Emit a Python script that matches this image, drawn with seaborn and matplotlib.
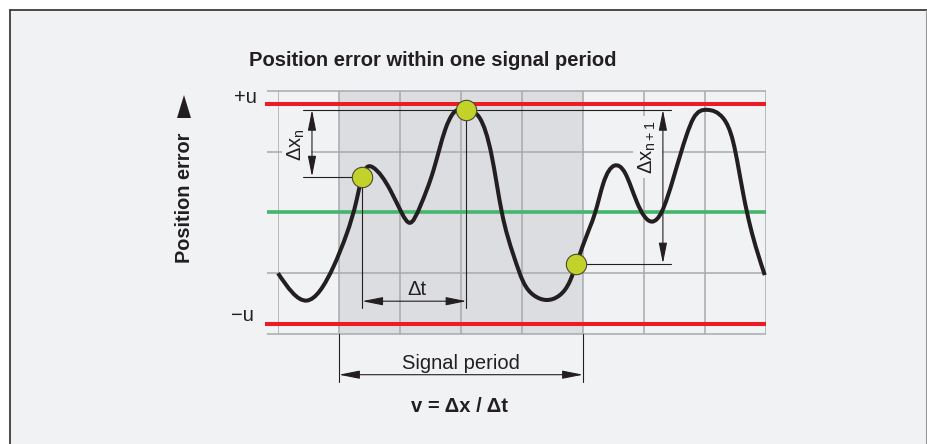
import numpy as np
import pandas as pd
import matplotlib
matplotlib.use("Agg")
import matplotlib.pyplot as plt
import seaborn as sns
from matplotlib.path import Path
from matplotlib.patches import PathPatch, Polygon, Rectangle
from matplotlib.lines import Line2D

# ---------------- data ----------------
title_text = "Position error within one signal period"
y_label = "Position error"
period_label = "Signal period"
formula_text = "v = Δx / Δt"
upper_label = "+u"
lower_label = "−u"
dxn_label = "Δx$_{n}$"
dxn1_label = "Δx$_{n+1}$"
dt_label = "Δt"

# position-error curve (x in grid columns, y in grid rows)
curve_x = [0.00, 0.47, 0.91, 1.13, 1.29, 1.38, 1.56, 1.84, 2.03, 2.16, 2.33, 2.55,
           2.74, 2.87, 3.09, 3.31, 3.50, 3.67, 3.86, 4.02, 4.19, 4.40, 4.62, 4.79,
           4.89, 5.11, 5.20, 5.33, 5.51, 5.69, 5.88, 6.13, 6.29, 6.48, 6.70, 6.81,
           7.03, 7.30, 7.46, 7.63, 7.74, 7.98]
curve_y = [-1.00, -1.45, -0.89, -0.34, 0.21, 0.59, 0.74, 0.37, -0.01, -0.17, 0.10, 0.70,
           1.36, 1.63, 1.70, 1.55, 0.95, 0.00, -0.70, -1.14, -1.36, -1.44, -1.36, -1.12,
           -0.85, -0.25, 0.00, 0.47, 0.77, 0.65, 0.18, -0.15, 0.01, 0.56, 1.28, 1.55,
           1.69, 1.55, 1.17, 0.29, -0.22, -1.03]

# sampled points (yellow markers)
marker_x = [1.38, 3.09, 4.89]
marker_y = [0.59, 1.69, -0.84]

# tolerance band and zero line
upper_limit = 1.79
lower_limit = -1.83
zero_level = 0.0

# grid and signal period
grid_cols = [0, 1, 2, 3, 4, 5, 6, 7, 8]
grid_rows = [-2, -1, 1, 2]
period_start = 1
period_end = 5

# ---------------- style ----------------
BG = "#f1f2f4"
SHADE = "#dcdde0"
GRID = "#a7a9ac"
RED = "#ec1c24"
GREEN = "#45b56b"
INK = "#231f20"
MARK = "#c3d12b"

sns.set_theme(style="white")
plt.rcParams["font.family"] = ["Liberation Sans", "DejaVu Sans"]
plt.rcParams["mathtext.fontset"] = "custom"
plt.rcParams["mathtext.rm"] = "Liberation Sans"
plt.rcParams["mathtext.it"] = "Liberation Sans"
plt.rcParams["mathtext.default"] = "regular"

W, H = 928, 444
fig = plt.figure(figsize=(W / 100, H / 100), dpi=100, facecolor="white")

# framed panel
fig.patches.append(Rectangle((10.5 / W, 0), 1 - 10.5 / W, (H - 10.5) / H,
                             transform=fig.transFigure, facecolor=BG,
                             edgecolor="none", zorder=-5))
fig.lines.append(Line2D([10.5 / W, 1], [(H - 10.5) / H] * 2, transform=fig.transFigure,
                        color="#3c3c3c", lw=1.3, zorder=-4))
fig.lines.append(Line2D([10.5 / W] * 2, [0, (H - 10.5) / H], transform=fig.transFigure,
                        color="#3c3c3c", lw=1.3, zorder=-4))
fig.lines.append(Line2D([926.5 / W] * 2, [0, (H - 10.5) / H], transform=fig.transFigure,
                        color="#9a9a9a", lw=0.8, zorder=-4))

ax = fig.add_axes([278 / W, 110 / H, 488 / W, 243 / H])
ax.set_xlim(0, 8)
ax.set_ylim(-2, 2)
ax.set_axis_off()
ax.patch.set_alpha(0)

# shaded signal period
ax.axvspan(period_start, period_end, ymin=0, ymax=1, color=SHADE, zorder=0.5, lw=0)

# grid
ax.vlines(grid_cols, -2, 2, color=GRID, lw=1.1, zorder=1)
ax.hlines(grid_rows, -0.18, 8, color=GRID, lw=1.1, zorder=1, clip_on=False)

# limits and zero line
ax.hlines([upper_limit, lower_limit], -0.21, 8, color=RED, lw=2.9, zorder=2, clip_on=False)
ax.hlines([zero_level], -0.18, 8, color=GREEN, lw=2.6, zorder=2, clip_on=False)


def smooth_path(xs, ys):
    """Natural cubic spline through the read points, drawn as Bezier segments."""
    x = np.asarray(xs, float)
    y = np.asarray(ys, float)
    n = len(x)
    h = np.diff(x)
    d = np.diff(y) / h
    A = np.zeros((n, n))
    r = np.zeros(n)
    A[0, 0] = A[-1, -1] = 1.0
    for i in range(1, n - 1):
        A[i, i - 1] = h[i - 1]
        A[i, i] = 2 * (h[i - 1] + h[i])
        A[i, i + 1] = h[i]
        r[i] = 6 * (d[i] - d[i - 1])
    M = np.linalg.solve(A, r)
    m = np.empty(n)
    m[:-1] = d - h * (2 * M[:-1] + M[1:]) / 6
    m[-1] = d[-1] + h[-1] * (M[-2] + 2 * M[-1]) / 6
    verts = [(x[0], y[0])]
    codes = [Path.MOVETO]
    for i in range(n - 1):
        verts += [(x[i] + h[i] / 3, y[i] + m[i] * h[i] / 3),
                  (x[i + 1] - h[i] / 3, y[i + 1] - m[i + 1] * h[i] / 3),
                  (x[i + 1], y[i + 1])]
        codes += [Path.CURVE4] * 3
    return Path(verts, codes)


ax.add_patch(PathPatch(smooth_path(curve_x, curve_y), facecolor="none",
                       edgecolor=INK, lw=2.9, capstyle="butt", joinstyle="round",
                       zorder=4, clip_on=False))

# dimension lines
thin = dict(color=INK, lw=0.8, zorder=3, clip_on=False)
ax.plot([0.41, 6.44], [marker_y[1]] * 2, **thin)
ax.plot([0.41, marker_x[0]], [marker_y[0]] * 2, **thin)
ax.plot([marker_x[2], 6.44], [marker_y[2]] * 2, **thin)
ax.plot([marker_x[0]] * 2, [marker_y[0], -1.57], **thin)
ax.plot([marker_x[1]] * 2, [marker_y[1], -1.57], **thin)
ax.plot([period_start] * 2, [-2, -2.79], **thin)
ax.plot([period_end] * 2, [-2, -2.79], **thin)

arrow = dict(arrowstyle="<|-|>,head_length=0.9,head_width=0.18", color=INK, lw=0.8,
             shrinkA=0, shrinkB=0, mutation_scale=14)


def dim(p1, p2):
    a = ax.annotate("", xy=p1, xytext=p2, arrowprops=arrow, annotation_clip=False)
    a.arrow_patch.set_zorder(3)


dim((0.557, marker_y[1]), (0.557, marker_y[0]))
dim((6.31, marker_y[1]), (6.31, marker_y[2]))
dim((marker_x[0], -1.46), (marker_x[1], -1.46))
dim((period_start, -2.67), (period_end, -2.67))

# markers
sns.scatterplot(x=marker_x, y=marker_y, s=215, color=MARK, edgecolor="#4a4a30",
                linewidth=0.8, zorder=6, clip_on=False, ax=ax, legend=False)

# labels
lab = dict(color=INK, fontsize=14.5)
box = dict(boxstyle="square,pad=0.2", fc=BG, ec="none")
ax.text(0.30, 1.12, dxn_label, rotation=90, ha="center", va="center",
        bbox=box, zorder=2.5, **lab)
ax.text(6.06, 1.08, dxn1_label, rotation=90, ha="center", va="center",
        bbox=box, zorder=2.5, **lab)
ax.text(2.28, -1.36, dt_label, ha="center", va="baseline", **lab)
ax.text(3.0, -2.58, period_label, ha="center", va="baseline", **lab)
ax.text(-0.34, 1.90, upper_label, ha="right", va="center", **lab)
ax.text(-0.39, -1.70, lower_label, ha="right", va="center", **lab)
ax.text(2.97, -3.19, formula_text, ha="center", va="center", fontsize=14.5,
        fontweight="bold", color=INK)

fig.text(433 / W, 1 - 60 / H, title_text, ha="center", va="center", fontsize=14.5,
         fontweight="bold", color=INK)
fig.text(185 / W, 1 - 198 / H, y_label, rotation=90, ha="center", va="center",
         fontsize=14.3, fontweight="bold", color=INK)
fig.patches.append(Polygon([(184 / W, 1 - 95 / H), (177 / W, 1 - 118 / H),
                            (191 / W, 1 - 118 / H)], closed=True,
                           transform=fig.transFigure, facecolor=INK, edgecolor="none"))

fig.savefig("out.png", dpi=100, facecolor="white")
